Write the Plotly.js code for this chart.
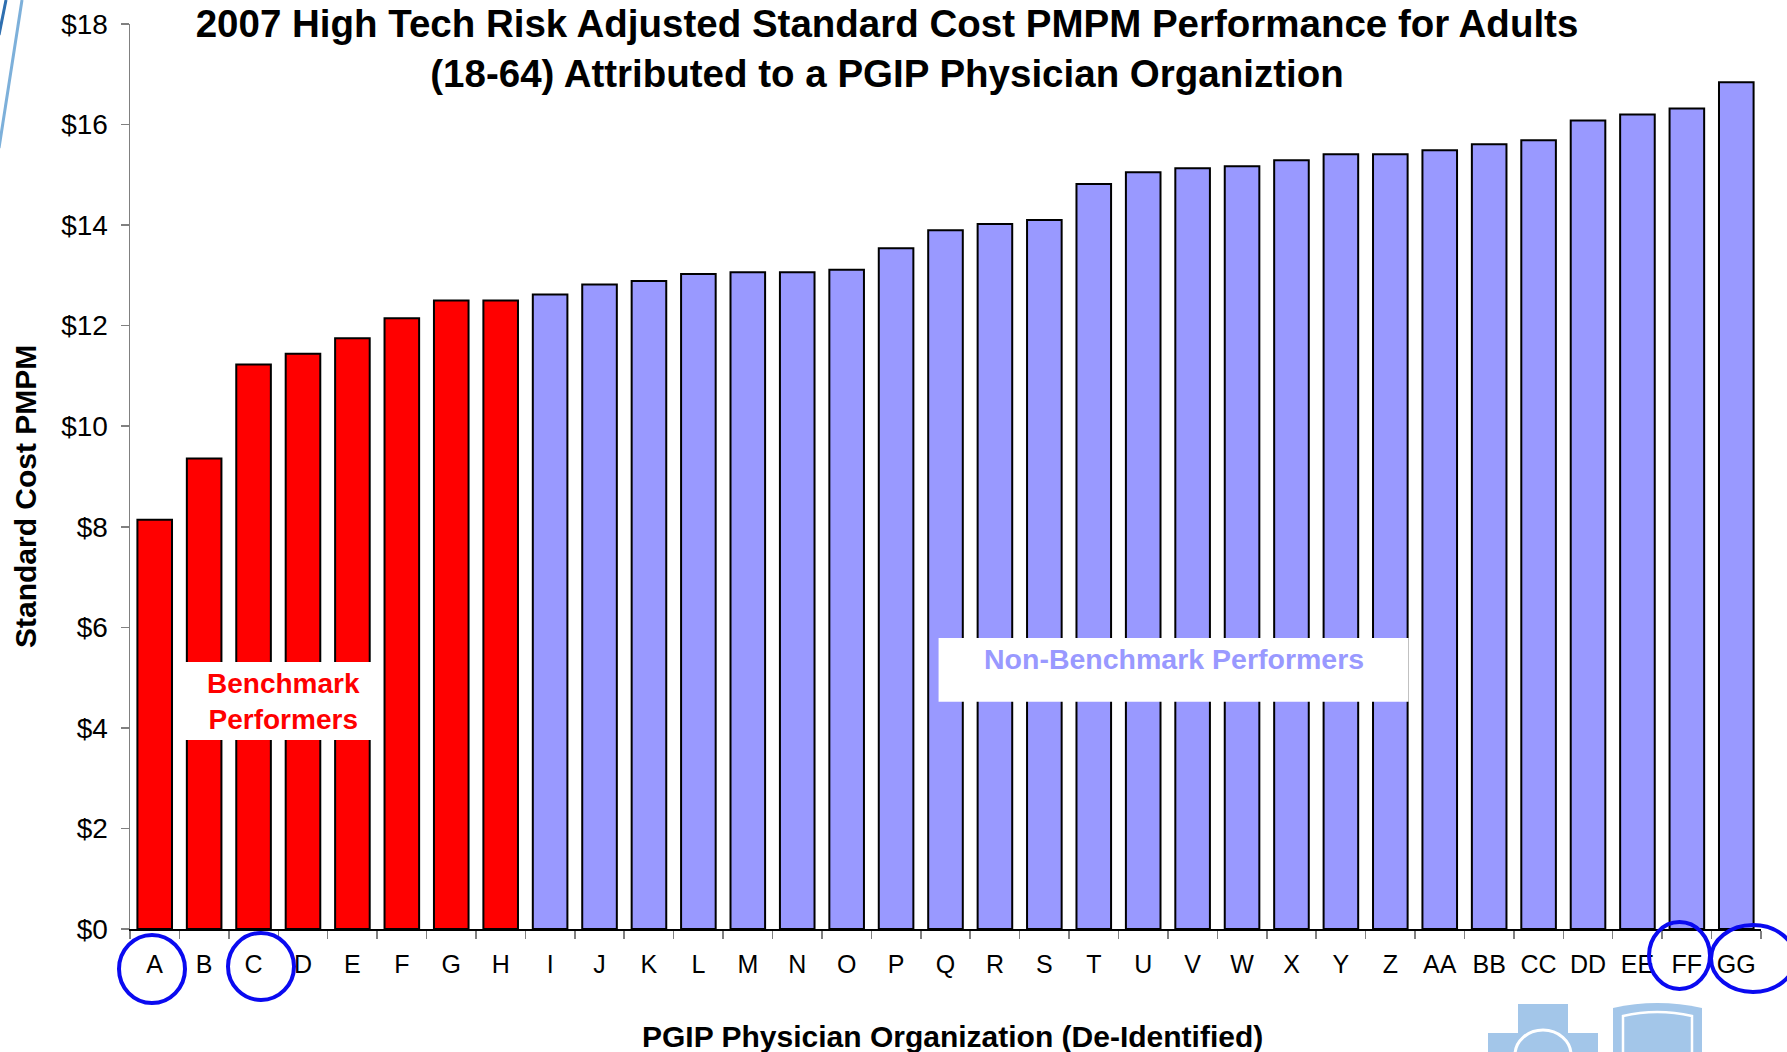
<!DOCTYPE html>
<html>
<head>
<meta charset="utf-8">
<script src="https://cdn.plot.ly/plotly-3.0.1.min.js"></script>
<style>html,body{margin:0;padding:0;background:#fff;}#chart{width:1787px;height:1052px;}</style>
</head>
<body>
<div id="chart"></div>
<script>
// ---- data ----
const categories = ["A","B","C","D","E","F","G","H","I","J","K","L","M","N","O","P","Q","R","S","T","U","V","W","X","Y","Z","AA","BB","CC","DD","EE","FF","GG"];
const costPMPM = [8.14, 9.36, 11.23, 11.44, 11.75, 12.15, 12.50, 12.50, 12.62, 12.82, 12.89, 13.03, 13.06, 13.06, 13.11, 13.54, 13.90, 14.02, 14.10, 14.82, 15.05, 15.13, 15.17, 15.29, 15.41, 15.41, 15.49, 15.61, 15.69, 16.08, 16.20, 16.32, 16.84];
const benchmarkCount = 8;
const circledLabels = ["A", "C", "FF", "GG"];
const titleLines = ["2007 High Tech Risk Adjusted Standard Cost PMPM Performance for Adults", "(18-64) Attributed to a PGIP Physician Organiztion"];
const yTitle = "Standard Cost PMPM";
const xTitle = "PGIP Physician Organization (De-Identified)";
const benchLabel = ["Benchmark", "Performers"];
const nonBenchLabel = "Non-Benchmark Performers";

// ---- geometry helpers (page pixels -> paper) ----
const W = 1787, H = 1052, L = 130, R = 1761, T = 24, B = 929;
const px = x => (x - L) / (R - L);
const py = y => (B - y) / (B - T);
const FONT = "Liberation Sans, Arial, sans-serif";

const benchCats = categories.slice(0, benchmarkCount);
const benchVals = costPMPM.slice(0, benchmarkCount);
const otherCats = categories.slice(benchmarkCount);
const otherVals = costPMPM.slice(benchmarkCount);

const traces = [
  {type: "bar", x: benchCats, y: benchVals, name: "Benchmark",
   marker: {color: "#FF0000", line: {color: "#000000", width: 2}}, hoverinfo: "x+y"},
  {type: "bar", x: otherCats, y: otherVals, name: "Non-Benchmark",
   marker: {color: "#9999FF", line: {color: "#000000", width: 2}}, hoverinfo: "x+y"}
];

// circles around selected tick labels (pixel boxes around the labels)
const circleBoxes = {
  "A":  [119, 935, 185, 1003],
  "C":  [228, 933, 294, 1000],
  "FF": [1649, 922, 1710, 989],
  "GG": [1711, 925, 1795, 992]
};
const shapes = [];
// white boxes behind the group labels (data coordinates)
shapes.push({type: "rect", xref: "x", yref: "y", x0: 0.51, x1: 4.52, y0: 3.76, y1: 5.31,
  fillcolor: "#FFFFFF", line: {width: 0}, layer: "above"});
shapes.push({type: "rect", xref: "x", yref: "y", x0: 15.86, x1: 25.37, y0: 4.52, y1: 5.79,
  fillcolor: "#FFFFFF", line: {width: 0}, layer: "above"});
circledLabels.forEach(c => {
  const b = circleBoxes[c];
  shapes.push({type: "circle", xref: "paper", yref: "paper",
    x0: px(b[0]), x1: px(b[2]), y0: py(b[3]), y1: py(b[1]),
    line: {color: "#0A0AF0", width: 4}, fillcolor: "rgba(0,0,0,0)", layer: "above"});
});
// slide decoration: top-left swoosh
shapes.push({type: "line", xref: "paper", yref: "paper", x0: px(22), y0: py(0), x1: px(-1), y1: py(148),
  line: {color: "#7DB0DA", width: 3}});
shapes.push({type: "line", xref: "paper", yref: "paper", x0: px(6), y0: py(0), x1: px(-1), y1: py(35),
  line: {color: "#2F6FB0", width: 3}});
// logos bottom right
const logoBlue = "#A3C6E9";
shapes.push({type: "rect", xref: "paper", yref: "paper", x0: px(1518), x1: px(1568), y0: py(1060), y1: py(1004),
  fillcolor: logoBlue, line: {width: 0}});
shapes.push({type: "rect", xref: "paper", yref: "paper", x0: px(1488), x1: px(1598), y0: py(1060), y1: py(1033),
  fillcolor: logoBlue, line: {width: 0}});
shapes.push({type: "circle", xref: "paper", yref: "paper", x0: px(1515), x1: px(1571), y0: py(1080), y1: py(1030),
  fillcolor: "rgba(0,0,0,0)", line: {color: "#FFFFFF", width: 3}});
const shieldPath = "M " + px(1613) + "," + py(1060) + " L " + px(1613) + "," + py(1008) +
  " Q " + px(1657) + "," + py(998) + " " + px(1702) + "," + py(1008) +
  " L " + px(1702) + "," + py(1060) + " Z";
shapes.push({type: "path", xref: "paper", yref: "paper", path: shieldPath, fillcolor: logoBlue, line: {width: 0}});
const shieldInner = "M " + px(1623) + "," + py(1060) + " L " + px(1623) + "," + py(1016) +
  " Q " + px(1657) + "," + py(1008) + " " + px(1692) + "," + py(1016) +
  " L " + px(1692) + "," + py(1060);
shapes.push({type: "path", xref: "paper", yref: "paper", path: shieldInner, fillcolor: "rgba(0,0,0,0)", line: {color: "#FFFFFF", width: 2.5}});

const annotations = [
  {xref: "x", yref: "y", x: 2.61, y: 4.52, text: benchLabel.join("<br>"), showarrow: false,
   font: {family: FONT, size: 28, color: "#FF0000", weight: "bold"}, align: "center"},
  {xref: "x", yref: "y", x: 20.63, y: 5.37, text: nonBenchLabel, showarrow: false,
   font: {family: FONT, size: 28.5, color: "#9999FF", weight: "bold"}, align: "center"},
  // y-axis title, placed where the reference shows it
  {xref: "paper", yref: "paper", x: px(25), y: py(497), xanchor: "center", yanchor: "middle",
   text: yTitle, textangle: -90, showarrow: false,
   font: {family: FONT, size: 30, color: "#000000", weight: "bold"}},
  // x-axis title
  {xref: "paper", yref: "paper", x: px(952), y: py(1036), xanchor: "center", yanchor: "middle",
   text: xTitle, showarrow: false,
   font: {family: FONT, size: 30, color: "#000000", weight: "bold"}}
];

const layout = {
  width: W, height: H,
  margin: {l: L, r: W - R, t: T, b: H - B, pad: 0},
  paper_bgcolor: "#FFFFFF", plot_bgcolor: "#FFFFFF",
  showlegend: false,
  barmode: "overlay",
  bargap: 0.3,
  font: {family: FONT, color: "#000000"},
  title: {text: titleLines.join("<br>"), xref: "container", yref: "container",
    x: 887 / W, xanchor: "center", y: 1 - 37 / H, yanchor: "top",
    font: {family: FONT, size: 38.5, color: "#000000", weight: "bold"}},
  xaxis: {type: "category", categoryorder: "array", categoryarray: categories,
    range: [-0.5, categories.length - 0.5], showgrid: false, zeroline: false,
    showline: true, linecolor: "#000000", linewidth: 1.5,
    ticks: "outside", tickson: "boundaries", ticklen: 8, tickcolor: "#808080", tickwidth: 1.5,
    tickfont: {family: FONT, size: 25, color: "#000000"}, ticklabelstandoff: 12,
    automargin: false, fixedrange: true},
  yaxis: {range: [0, 18], dtick: 2, tick0: 0, tickprefix: "$", showgrid: false, zeroline: false,
    showline: true, linecolor: "#808080", linewidth: 1.5,
    ticks: "outside", ticklen: 8, tickcolor: "#808080", tickwidth: 1.5,
    tickfont: {family: FONT, size: 28, color: "#000000"}, ticklabelstandoff: 7,
    automargin: false, fixedrange: true},
  shapes: shapes,
  annotations: annotations
};

Plotly.newPlot("chart", traces, layout, {displayModeBar: false, staticPlot: true});
</script>
</body>
</html>
